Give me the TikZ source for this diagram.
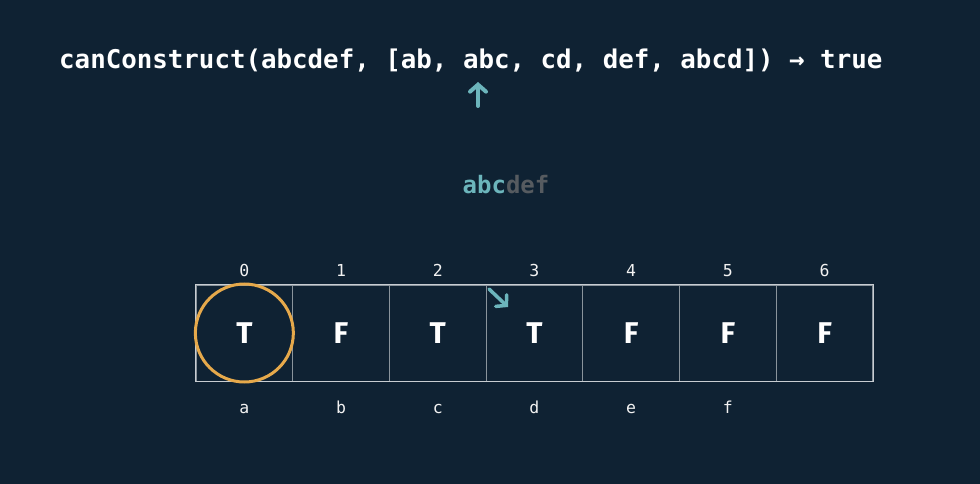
\documentclass[tikz,border=0pt]{standalone}
\usepackage{fontspec}
\setmainfont{Fira Sans}
\setmonofont{DejaVu Sans Mono}
\usetikzlibrary{arrows.meta}
\definecolor{bg}{HTML}{0F2233}
\definecolor{teal}{HTML}{6CB5BC}
\definecolor{orng}{HTML}{E6A94B}
\definecolor{dimg}{HTML}{565B60}
\definecolor{cellline}{HTML}{C8CDD2}
\definecolor{innerline}{HTML}{8A949C}
\tikzset{
  title/.style={text=white,font=\ttfamily\bfseries\fontsize{25.8}{30}\selectfont,inner sep=0pt,anchor=west},
  idx/.style={text=white!90!gray,font=\ttfamily\fontsize{16.5}{18}\selectfont,inner sep=0pt,anchor=base},
  val/.style={text=white,font=\bfseries\fontsize{30}{34}\selectfont,inner sep=0pt},
  cell/.style={draw=innerline,line width=1pt,minimum width=96.7pt,minimum height=96pt,inner sep=0pt},
  tealarrow/.style={draw=teal,line width=4pt,line cap=round,-{Straight Barb[length=7pt,width=16pt,line cap=round]}}
}
\begin{document}
\begin{tikzpicture}[x=1pt,y=-1pt]
\fill[bg] (0,0) rectangle (980,484);
\useasboundingbox (0,0) rectangle (980,484);
\node[title] (t) at (59,61) {canConstruct(abcdef, [ab, abc, cd, def, abcd]) → true};
\coordinate (ua1) at (478,106);
\coordinate (ua2) at (478,82);
\draw[tealarrow] (ua1) -- (ua2);
\node[font=\ttfamily\bfseries\fontsize{24}{28}\selectfont,inner sep=0pt] (s) at (506,185) {\textcolor{teal}{abc}\textcolor{dimg}{def}};
\foreach \i/\v/\l in {0/T/a,1/F/b,2/T/c,3/T/d,4/F/e,5/F/f,6/F/{}} {
  \node[cell] (c\i) at ({244.35+96.7*\i},333) {};
  \node[val] (v\i) at (c\i) {\v};
  \node[idx] (i\i) at ({244.35+96.7*\i},276) {\i};
  \node[idx] (l\i) at ({244.35+96.7*\i},413) {\l};
}
\draw[cellline,line width=1.8pt] (c0.north west) rectangle (c6.south east);
\draw[orng,line width=3pt] (c0.center) circle (49);
\coordinate (da1) at (489,289);
\coordinate (da2) at (508,307);
\draw[tealarrow,line width=3.5pt] (da1) -- (da2);
\end{tikzpicture}
\end{document}
